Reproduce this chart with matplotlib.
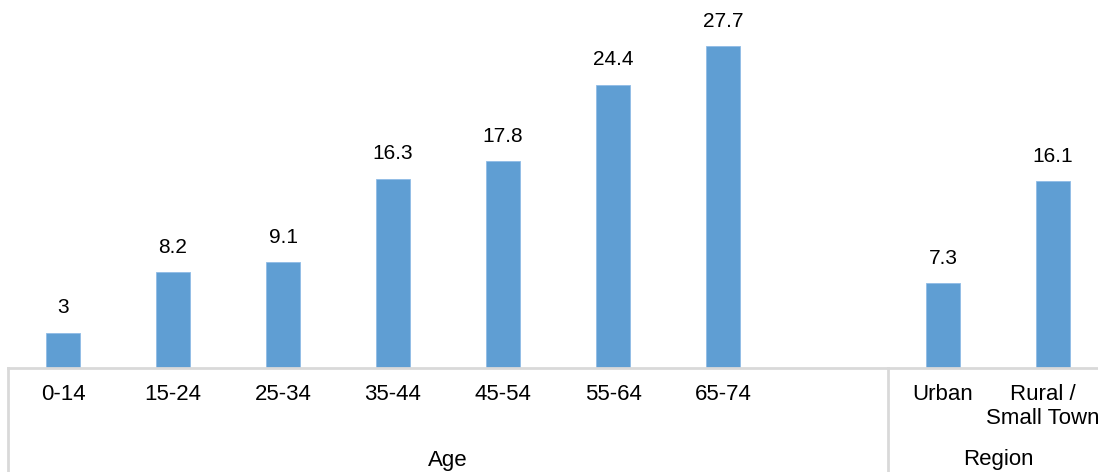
import matplotlib
matplotlib.use("Agg")
import matplotlib.pyplot as plt
import matplotlib.transforms as mtransforms

plt.rcParams["font.family"] = ["Liberation Sans", "DejaVu Sans"]

# Share (%) by age group and by region
age_groups = ["0-14", "15-24", "25-34", "35-44", "45-54", "55-64", "65-74"]
age_values = [3.0, 8.2, 9.1, 16.3, 17.8, 24.4, 27.7]
region_groups = ["Urban", "Rural /\nSmall Town"]
region_values = [7.3, 16.1]
group_titles = ["Age", "Region"]

BAR_COLOR = "#5F9ED3"
LINE_COLOR = "#D9D9D9"

W, H, DPI = 1098, 472, 100
fig = plt.figure(figsize=(W / DPI, H / DPI), dpi=DPI)

slot_px = 110.0
left_px = 8.0
base_px = 367.5
ax = fig.add_axes([left_px / W, (H - base_px) / H, (W - left_px) / W, base_px / H])

# Age categories occupy slots 0..6 (slot 7 left empty), regions slots 8..9
age_pos = list(range(len(age_groups)))
region_pos = [len(age_groups) + 1 + i for i in range(len(region_groups))]
positions = age_pos + region_pos
values = age_values + region_values
labels = age_groups + region_groups

bars = ax.bar(positions, values, width=0.31, color=BAR_COLOR, edgecolor="#8FBCE6",
              linewidth=0.6, zorder=2)
ax.bar_label(bars, labels=[f"{v:g}" for v in values], padding=11, fontsize=15,
             color="black")

ax.set_xlim(-0.5, -0.5 + (W - left_px) / slot_px)
ax.set_ylim(0, 31.7)

for s in ["top", "right", "left"]:
    ax.spines[s].set_visible(False)
ax.spines["bottom"].set_color(LINE_COLOR)
ax.spines["bottom"].set_linewidth(2)
ax.set_yticks([])
ax.set_xticks(positions)
ax.set_xticklabels(labels, fontsize=16, linespacing=1.15)
ax.tick_params(axis="x", length=0, pad=12)

# Keep the wrapped last label inside the right edge
last = ax.get_xticklabels()[-1]
last.set_multialignment("center")
last.set_transform(last.get_transform() +
                   mtransforms.ScaledTranslation(-10 / DPI, 0, fig.dpi_scale_trans))

# Group separators and titles beneath the category labels
trans = mtransforms.blended_transform_factory(ax.transData, ax.transAxes)
depth = (H - base_px) / base_px
for xs in [-0.5, 7.5, 9.5]:
    ax.plot([xs, xs], [0, -depth - 0.05], transform=trans, color=LINE_COLOR,
            linewidth=2, clip_on=False, zorder=1)

px_to_ax = 1.0 / base_px
ax.text(3.5, -(450 - base_px) * px_to_ax, group_titles[0], transform=trans,
        ha="center", va="top", fontsize=16)
ax.text(8.5, -(449 - base_px) * px_to_ax, group_titles[1], transform=trans,
        ha="center", va="top", fontsize=16)

fig.savefig("out.png", dpi=DPI)
